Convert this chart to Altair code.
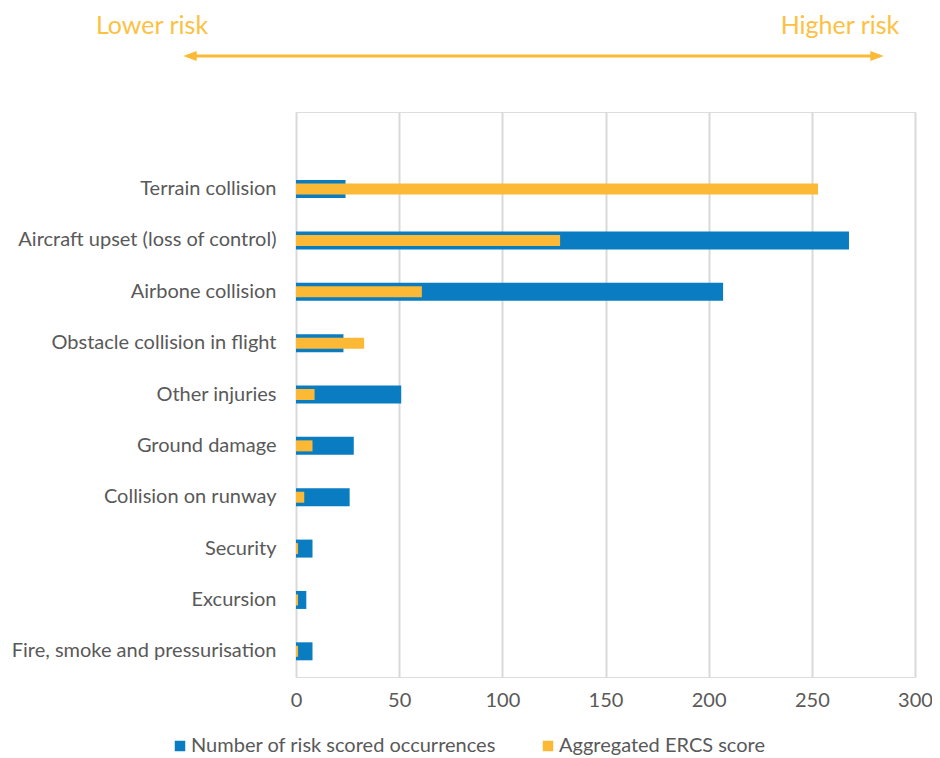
import altair as alt
import pandas as pd

categories = [
    "Terrain collision",
    "Aircraft upset (loss of control)",
    "Airbone collision",
    "Obstacle collision in flight",
    "Other injuries",
    "Ground damage",
    "Collision on runway",
    "Security",
    "Excursion",
    "Fire, smoke and pressurisation",
]
occurrences = [24, 268, 207, 23, 51, 28, 26, 8, 5, 8]
ercs_score = [253, 128, 61, 33, 9, 8, 4, 1, 1, 1]
series_names = ["Number of risk scored occurrences", "Aggregated ERCS score"]
x_ticks = [0, 50, 100, 150, 200, 250, 300]

BLUE = "#0A7DC2"
ORANGE = "#FBB935"
GRAY = "#595959"
FONT = "Lato"

rows = []
for c, o, e in zip(categories, occurrences, ercs_score):
    rows.append({"category": c, "series": series_names[0], "value": o})
    rows.append({"category": c, "series": series_names[1], "value": e})
df = pd.DataFrame(rows)

y_domain = [""] + categories

color = alt.Color(
    "series:N",
    scale=alt.Scale(domain=series_names, range=[BLUE, ORANGE]),
    legend=alt.Legend(
        title=None,
        orient="none",
        legendX=-126,
        legendY=624,
        direction="horizontal",
        symbolType="square",
        symbolSize=110,
        symbolStrokeWidth=0,
        labelFontSize=20,
        labelFont=FONT,
        labelColor=GRAY,
        labelOffset=1,
        labelLimit=500,
        columnPadding=41,
    ),
)

x = alt.X(
    "value:Q",
    scale=alt.Scale(domain=[0, 300], nice=False),
    axis=alt.Axis(
        values=x_ticks,
        title=None,
        grid=True,
        gridColor="#D9D9D9",
        gridWidth=2,
        domain=False,
        ticks=False,
        labelFlush=False,
        labelFontSize=20,
        labelFont=FONT,
        labelColor=GRAY,
        labelPadding=13,
    ),
)
y = alt.Y(
    "category:N",
    scale=alt.Scale(domain=y_domain, paddingInner=0, paddingOuter=0),
    axis=alt.Axis(
        title=None,
        domain=False,
        ticks=False,
        grid=False,
        labelFontSize=20,
        labelFont=FONT,
        labelColor=GRAY,
        labelPadding=20,
        labelLimit=400,
    ),
)

base = alt.Chart(df)
blue_bars = base.transform_filter(alt.datum.series == series_names[0]).mark_bar(size=18).encode(
    x=x, y=y, color=color
)
orange_bars = base.transform_filter(alt.datum.series == series_names[1]).mark_bar(size=11).encode(
    x=x, y=y, color=color
)

one = pd.DataFrame({"a": [0]})
arrow_line = alt.Chart(one).mark_rule(color=ORANGE, strokeWidth=3).encode(
    x=alt.value(-105), x2=alt.value(580), y=alt.value(-56)
)
arrow_left = alt.Chart(one).mark_point(
    shape="M 1 -0.75 L -1 0 L 1 0.75 Z", filled=True, color=ORANGE, opacity=1, size=180
).encode(x=alt.value(-106), y=alt.value(-56))
arrow_right = alt.Chart(one).mark_point(
    shape="M -1 -0.75 L 1 0 L -1 0.75 Z", filled=True, color=ORANGE, opacity=1, size=180
).encode(x=alt.value(581), y=alt.value(-56))
lower_text = alt.Chart(one).mark_text(
    text="Lower risk", fontSize=25, font=FONT, color="#FDC142", align="center", baseline="middle"
).encode(x=alt.value(-144), y=alt.value(-86))
higher_text = alt.Chart(one).mark_text(
    text="Higher risk", fontSize=25, font=FONT, color="#FDC142", align="center", baseline="middle"
).encode(x=alt.value(544), y=alt.value(-86))

chart = (
    alt.layer(blue_bars, orange_bars, arrow_line, arrow_left, arrow_right, lower_text, higher_text)
    .properties(
        width=619,
        height=565,
        autosize=alt.AutoSizeParams(type="none"),
        padding={"left": 288, "top": 104, "right": 17, "bottom": 79},
    )
    .configure_view(strokeWidth=0)
    .configure(background="white")
)

chart.save("out.html", embed_options={"renderer": "svg", "actions": False})
